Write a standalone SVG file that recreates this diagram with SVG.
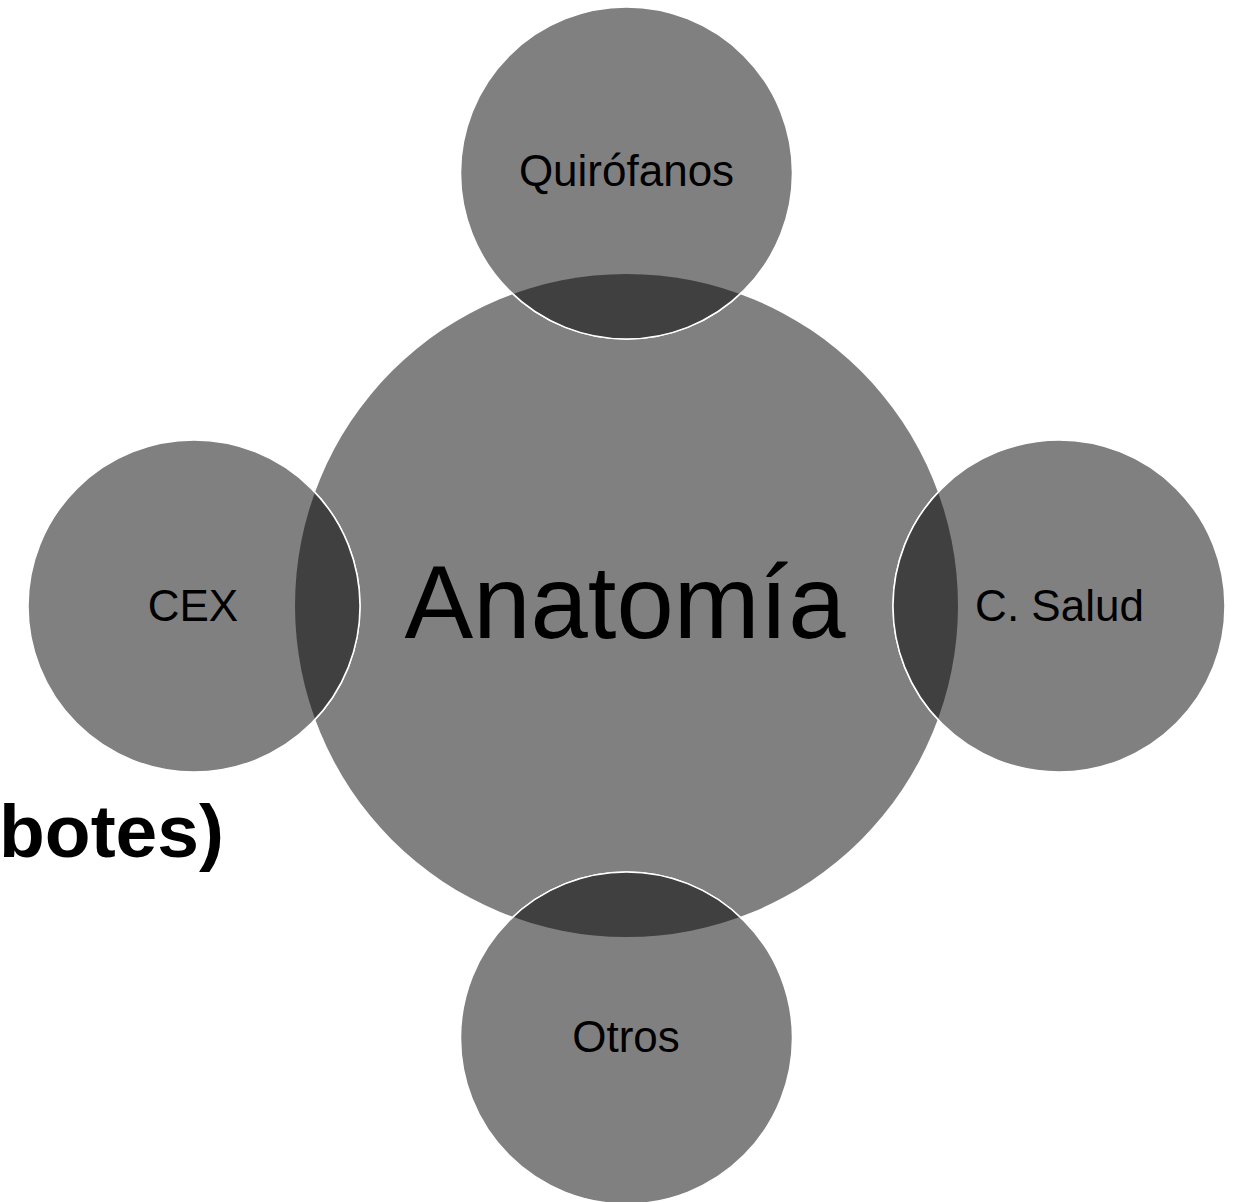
<svg xmlns="http://www.w3.org/2000/svg" width="1233" height="1202" viewBox="0 0 1233 1202">
<defs>
<clipPath id="clipCenter"><circle cx="626.5" cy="605.5" r="331.5"/></clipPath>
</defs>
<style>
.sat{fill:#808080;stroke:#ffffff;stroke-width:1.5}
.lens{fill:#404040;stroke:#ffffff;stroke-width:1.5}
.lbl{font-family:"Liberation Sans",Arial,sans-serif;font-size:44px;fill:#000000;text-anchor:middle}
</style>
<rect width="1233" height="1202" fill="#ffffff"/>
<text id="bg-text" x="224" y="857" font-family="Liberation Sans, Arial, sans-serif" font-size="75" font-weight="bold" text-anchor="end" fill="#000000">botes)</text>
<g id="node-anatomia">
<circle cx="626.5" cy="605.5" r="331.5" fill="#808080"/>
<text x="625" y="638" font-family="Liberation Sans, Arial, sans-serif" font-size="103" text-anchor="middle" fill="#000000">Anatomía</text>
</g>
<g id="node-quirofanos">
<circle class="sat" cx="626.5" cy="173" r="166"/>
<circle class="lens" cx="626.5" cy="173" r="166" clip-path="url(#clipCenter)"/>
<text class="lbl" x="626.5" y="186">Quirófanos</text>
</g>
<g id="node-cex">
<circle class="sat" cx="194" cy="606" r="166"/>
<circle class="lens" cx="194" cy="606" r="166" clip-path="url(#clipCenter)"/>
<text class="lbl" x="193" y="621">CEX</text>
</g>
<g id="node-csalud">
<circle class="sat" cx="1059" cy="606" r="166"/>
<circle class="lens" cx="1059" cy="606" r="166" clip-path="url(#clipCenter)"/>
<text class="lbl" x="1059.5" y="621">C. Salud</text>
</g>
<g id="node-otros">
<circle class="sat" cx="626.5" cy="1038" r="166"/>
<circle class="lens" cx="626.5" cy="1038" r="166" clip-path="url(#clipCenter)"/>
<text class="lbl" x="626" y="1052">Otros</text>
</g>
</svg>
